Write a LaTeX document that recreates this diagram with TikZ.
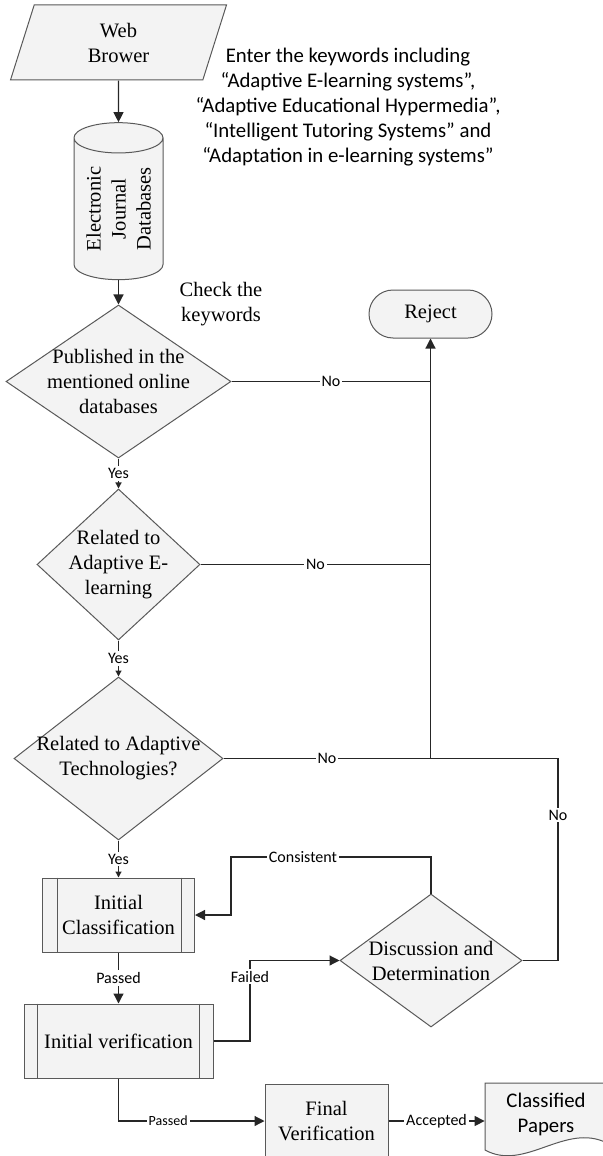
\documentclass[tikz,border=0pt]{standalone}
\usepackage{fontspec}
\setmainfont{Liberation Serif}
\newfontfamily\calibri{Carlito}
\usetikzlibrary{shapes.geometric,arrows.meta}
\definecolor{edgegray}{HTML}{595959}
\definecolor{linegray}{HTML}{262626}
\definecolor{boxfill}{HTML}{F3F3F3}

\begin{document}
\begin{tikzpicture}[
  x=0.5pt, y=-0.5pt,
  shapebox/.style={draw=edgegray, fill=boxfill, line width=0.5pt, align=center, font=\fontsize{10.25}{12.5}\selectfont},
  decision/.style={shapebox, diamond, inner sep=-8pt},
  process/.style={shapebox, rectangle},
  lbl/.style={font=\calibri\fontsize{8}{9.6}\selectfont, fill=white, inner sep=1pt},
  note/.style={align=center, font=\fontsize{10.25}{12.5}\selectfont},
  arrow/.style={-{Triangle[length=5pt,width=5pt]}, line width=0.6pt, draw=linegray},
  yesarrow/.style={-{Triangle[length=3pt,width=3pt]}, line width=0.6pt, draw=linegray},
  plain/.style={line width=0.6pt, draw=linegray}
]
\useasboundingbox (0,0) rectangle (603,1156);

\node[shapebox, trapezium, trapezium left angle=59, trapezium right angle=121, trapezium stretches body, minimum width=108pt, minimum height=37.5pt, inner sep=0pt] (web) at (118.5,42.5) {Web\\Brower};
\node[shapebox, cylinder, rotate=90, aspect=0.47, minimum width=44.5pt, minimum height=78.5pt, inner sep=0pt] (db) at (118.5,209) {Electronic\\Journal\\Databases};
\node[align=center, font=\calibri\fontsize{10.4}{12.5}\selectfont] (keys) at (348,107) {Enter the keywords including\\“Adaptive E-learning systems”,\\“Adaptive Educational Hypermedia”,\\“Intelligent Tutoring Systems” and\\“Adaptation in e-learning systems”};
\node[note] (check) at (221,304) {Check the\\keywords};

\node[decision, minimum width=112.5pt, minimum height=76.5pt] (pub) at (118.5,381.5) {Published in the\\mentioned online\\databases};
\node[decision, minimum width=81.5pt, minimum height=75.5pt] (rel) at (118.5,564.5) {Related to\\Adaptive E-\\learning};
\node[decision, minimum width=104.5pt, minimum height=81.5pt] (tech) at (118.5,758.5) {Related to Adaptive\\Technologies?};
\node[decision, minimum width=91pt, minimum height=66.5pt] (disc) at (431,960.5) {Discussion and\\Determination};
\node[process, rounded corners=12pt, minimum width=61.5pt, minimum height=24pt] (reject) at (430.5,314) {Reject};

\node[process, minimum width=76pt, minimum height=37pt] (ic) at (118.5,915) {Initial\\Classification};
\draw[draw=edgegray, line width=0.5pt] ([xshift=7.5pt]ic.north west) -- ([xshift=7.5pt]ic.south west) ([xshift=-7pt]ic.north east) -- ([xshift=-7pt]ic.south east);
\node[process, minimum width=94.5pt, minimum height=37pt] (iv) at (118.5,1041) {Initial verification};
\draw[draw=edgegray, line width=0.5pt] ([xshift=7pt]iv.north west) -- ([xshift=7pt]iv.south west) ([xshift=-7pt]iv.north east) -- ([xshift=-7pt]iv.south east);
\node[process, minimum width=61.5pt, minimum height=37pt] (fv) at (326.5,1121) {Final\\Verification};

\draw[draw=edgegray, fill=boxfill, line width=0.5pt] (485,1083) -- (485,1150) .. controls (525,1172) and (565,1122) .. (607,1143) -- (607,1083) -- cycle;
\node[align=center, font=\calibri\fontsize{10.4}{12.5}\selectfont, minimum width=61pt, minimum height=33.5pt, inner sep=0pt] (cp) at (546,1114) {Classified\\Papers};

\coordinate (j3) at (430.5,758.5);
\coordinate (turn) at (558,758.5);

\draw[arrow] (web) -- (db);
\draw[arrow] (db) -- (pub);
\draw[yesarrow] (pub) -- node[lbl]{Yes} (rel);
\draw[yesarrow] (rel) -- node[lbl]{Yes} (tech);
\draw[yesarrow] (tech) -- node[lbl]{Yes} (ic);
\draw[arrow] (ic) -- node[lbl]{Passed} (iv);
\draw[plain] (pub) -- node[lbl]{No} (pub -| reject);
\draw[plain] (rel) -- node[lbl]{No} (rel -| reject);
\draw[plain] (tech) -- node[lbl]{No} (j3);
\draw[arrow] (j3) -- (reject);
\draw[plain] (disc.east) -| node[lbl, pos=0.86]{No} (turn) -- (j3);
\draw[arrow] (disc.north) |- node[lbl, pos=0.82]{Consistent} (231,857) |- (ic.east);
\draw[arrow] (iv.east) -- (250,1041) |- node[lbl, pos=0.4]{Failed} (disc.west);
\draw[arrow] (iv.south) |- node[lbl, font=\calibri\fontsize{7}{8}\selectfont, pos=0.67]{Passed} (fv.west);
\draw[arrow] (fv.east) -- node[lbl]{Accepted} (fv.east -| cp.west);
\end{tikzpicture}
\end{document}
